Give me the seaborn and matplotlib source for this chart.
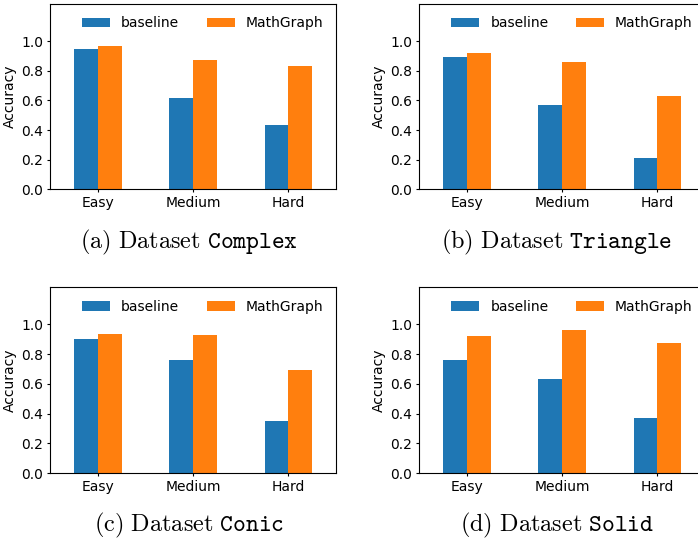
import pandas as pd
import matplotlib
matplotlib.use("Agg")
import matplotlib.pyplot as plt
import seaborn as sns

# -----------------------------
# Data
# -----------------------------
levels = ["Easy", "Medium", "Hard"]
methods = ["baseline", "MathGraph"]

complex_baseline = [0.944, 0.614, 0.433]
complex_mathgraph = [0.964, 0.870, 0.830]
triangle_baseline = [0.890, 0.567, 0.211]
triangle_mathgraph = [0.917, 0.857, 0.628]
conic_baseline = [0.903, 0.762, 0.348]
conic_mathgraph = [0.937, 0.930, 0.694]
solid_baseline = [0.762, 0.634, 0.371]
solid_mathgraph = [0.924, 0.964, 0.876]

panels = [
    ("a", "Complex", complex_baseline, complex_mathgraph),
    ("b", "Triangle", triangle_baseline, triangle_mathgraph),
    ("c", "Conic", conic_baseline, conic_mathgraph),
    ("d", "Solid", solid_baseline, solid_mathgraph),
]

colors = ["#1f77b4", "#ff7f0e"]

plt.rcParams["font.family"] = ["DejaVu Sans"]
plt.rcParams["font.size"] = 10
plt.rcParams["mathtext.fontset"] = "cm"
plt.rcParams["xtick.major.size"] = 2.5
plt.rcParams["ytick.major.size"] = 2.5
plt.rcParams["xtick.major.pad"] = 2.5
plt.rcParams["ytick.major.pad"] = 2.5

fig = plt.figure(figsize=(6.98, 5.42), dpi=100)

# axes boxes in figure fractions: left, bottom, width, height
boxes = [
    (0.0716, 0.6507, 0.410, 0.342),
    (0.6003, 0.6507, 0.410, 0.342),
    (0.0716, 0.1273, 0.410, 0.343),
    (0.6003, 0.1273, 0.410, 0.343),
]
caption_pos = [(0.271, 0.552), (0.798, 0.552), (0.271, 0.030), (0.798, 0.030)]

for (tag, name, base, mg), box, cpos in zip(panels, boxes, caption_pos):
    ax = fig.add_axes(box)
    df = pd.DataFrame({
        "level": levels * 2,
        "acc": base + mg,
        "method": [methods[0]] * 3 + [methods[1]] * 3,
    })
    sns.barplot(data=df, x="level", y="acc", hue="method", palette=colors,
                width=0.5, saturation=1, ax=ax)
    ax.set_ylim(0, 1.25)
    ax.set_yticks([0.0, 0.2, 0.4, 0.6, 0.8, 1.0])
    ax.set_xlim(-0.5, 2.5)
    ax.set_xlabel("")
    ax.set_ylabel("Accuracy", labelpad=3)
    sns.move_legend(ax, "upper right", ncol=2, frameon=False, title=None)
    fig.text(cpos[0], cpos[1],
             r"$\mathrm{(" + tag + r")\ Dataset}\ \mathtt{" + name + "}$",
             ha="center", va="center", fontsize=17.5)

plt.savefig("out.png", dpi=100)
